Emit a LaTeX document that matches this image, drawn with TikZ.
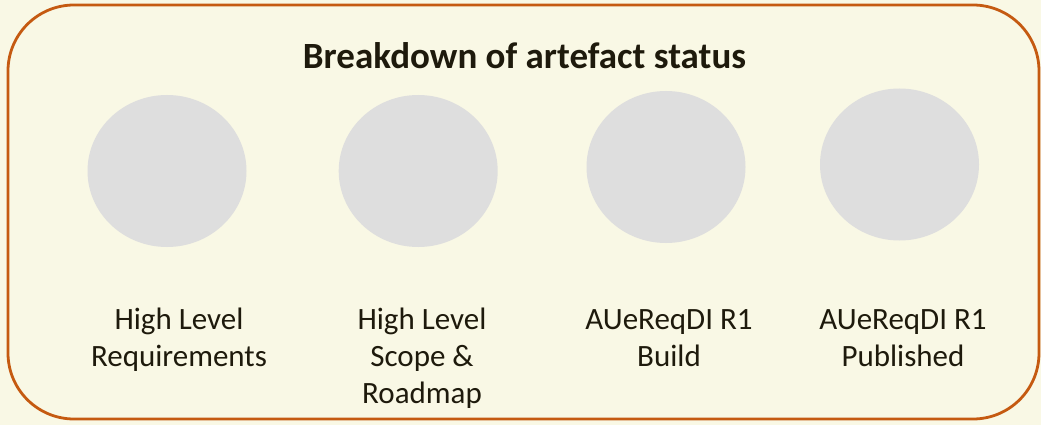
\documentclass[tikz,border=0pt]{standalone}
\usepackage{fontspec}
\setmainfont{Carlito}
\usetikzlibrary{shapes.geometric}
\definecolor{cream}{RGB}{249,248,229}
\definecolor{rust}{RGB}{197,90,17}
\definecolor{disc}{RGB}{222,222,222}
\definecolor{ink}{RGB}{30,26,12}
\begin{document}
\begin{tikzpicture}[x=1pt,y=-1pt,
    status/.style={fill=disc,draw=none,ellipse,minimum width=159pt,minimum height=152pt,inner sep=0pt},
    caption/.style={text=ink,align=center,anchor=base,font=\fontsize{31}{37}\selectfont}]
\fill[cream] (0,0) rectangle (1041,425);
\useasboundingbox (0,0) rectangle (1041,425);
\draw[rust,line width=2.8pt,rounded corners=66pt] (8,5) rectangle (1039,419);
\node[text=ink,anchor=base,font=\fontsize{37}{44}\selectfont\bfseries] (title) at (524.5,69) {Breakdown of artefact status};
% artefact discs
\node[status] (hlr) at (167,171) {};
\node[status] (hls) at (418.2,171) {};
\node[status] (build) at (666,167) {};
\node[status] (pub) at (899.5,164.5) {};
% captions (anchored on the last line)
\node[caption] (hlrtext) at (179,366) {High Level\\Requirements};
\node[caption] (hlstext) at (422,403) {High Level\\Scope \&\\Roadmap};
\node[caption] (buildtext) at (669,366) {AUeReqDI R1\\Build};
\node[caption] (pubtext) at (903,366) {AUeReqDI R1\\Published};
\end{tikzpicture}
\end{document}
